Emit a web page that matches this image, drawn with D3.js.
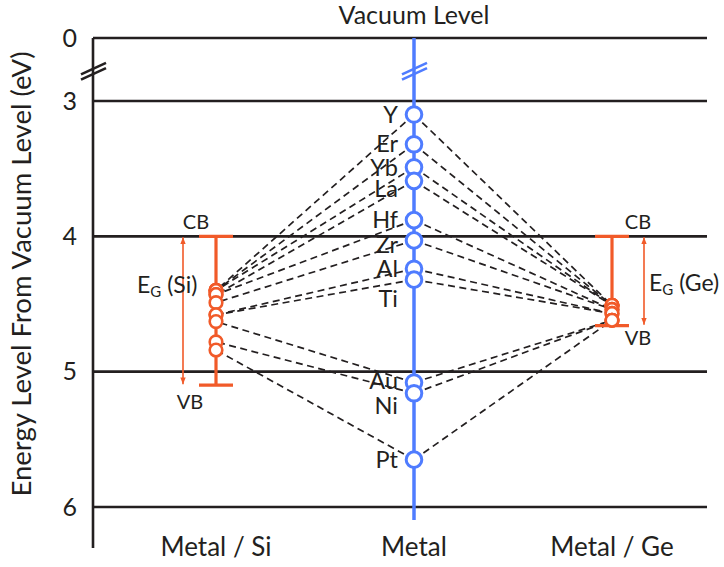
<!DOCTYPE html>
<html>
<head>
<meta charset="utf-8">
<script src="https://cdn.jsdelivr.net/npm/d3@7"></script>
<style>
  html, body { margin: 0; padding: 0; background: #fff; }
  svg { display: block; font-family: Lato, "Open Sans", sans-serif; }
</style>
</head>
<body>
<svg id="chart" width="724" height="567"></svg>
<script>
// Metal work functions (eV below vacuum) and the Fermi levels they pin to on Si and Ge
const metals      = ["Y", "Er", "Yb", "La", "Hf", "Zr", "Al", "Ti", "Au", "Ni", "Pt"];
const workFunc    = [3.10, 3.32, 3.49, 3.59, 3.88, 4.03, 4.24, 4.32, 5.08, 5.16, 5.65];
const pinnedSi    = [4.40, 4.40, 4.40, 4.43, 4.43, 4.49, 4.58, 4.58, 4.63, 4.78, 4.84];
const pinnedGe    = [4.51, 4.51, 4.51, 4.51, 4.54, 4.54, 4.57, 4.57, 4.62, 4.62, 4.62];

// Band edges (eV below vacuum)
const siBands = { cb: 4.00, vb: 5.10 };
const geBands = { cb: 4.00, vb: 4.66 };

const yTicks   = [0, 3, 4, 5, 6];
const columns  = ["Metal / Si", "Metal", "Metal / Ge"];

const svg = d3.select("#chart");
const ink = "#231f20", orange = "#f15a29", blue = "#4f7cff";

// Broken energy axis: 0..3 eV compressed, 3..6 eV linear
const y = d3.scaleLinear().domain([0, 3, 6]).range([38, 101, 507]);
const x = d3.scalePoint().domain(columns).range([216, 612]);
const axisX = 93, rightX = 707;

// Horizontal reference levels
svg.append("g").selectAll("line").data(yTicks).join("line")
  .attr("x1", axisX).attr("x2", rightX)
  .attr("y1", d => y(d)).attr("y2", d => y(d))
  .attr("stroke", ink).attr("stroke-width", 2.6);

// Left axis with tick labels
const yAxis = d3.axisLeft(y).tickValues(yTicks).tickFormat(d3.format("d"))
  .tickSize(0).tickPadding(16);
const gAxis = svg.append("g").attr("transform", `translate(${axisX},0)`).call(yAxis);
gAxis.select(".domain").remove();
gAxis.selectAll("text").attr("font-size", 25).attr("fill", ink)
  .attr("font-family", "Lato, sans-serif");
svg.append("line").attr("x1", axisX).attr("x2", axisX).attr("y1", y(0)).attr("y2", 548)
  .attr("stroke", ink).attr("stroke-width", 2.6);

// Break marks on the axis and on the metal column
function breakMarks(cx, cy, color) {
  [-2.6, 2.6].forEach(off => {
    svg.append("line")
      .attr("x1", cx - 12).attr("y1", cy + 5.5 + off)
      .attr("x2", cx + 13).attr("y2", cy - 6 + off)
      .attr("stroke", color).attr("stroke-width", 2.6);
  });
}
const breakY = (y(0) + y(3)) / 2 + 2;

// Dashed pinning lines
const xm = x("Metal"), xs = x("Metal / Si"), xg = x("Metal / Ge");
const dashG = svg.append("g").attr("stroke", ink).attr("stroke-width", 1.7)
  .attr("stroke-dasharray", "7,4.5").attr("fill", "none");
metals.forEach((m, i) => {
  dashG.append("line").attr("x1", xm).attr("y1", y(workFunc[i]))
    .attr("x2", xs).attr("y2", y(pinnedSi[i]));
  dashG.append("line").attr("x1", xm).attr("y1", y(workFunc[i]))
    .attr("x2", xg).attr("y2", y(pinnedGe[i]));
});

// Metal column
svg.append("line").attr("x1", xm).attr("x2", xm).attr("y1", y(0)).attr("y2", 520)
  .attr("stroke", blue).attr("stroke-width", 3.5);
breakMarks(axisX, breakY, ink);
breakMarks(xm, breakY, blue);

// Semiconductor band-gap bars
function bandBar(cx, bands) {
  const g = svg.append("g").attr("stroke", orange).attr("stroke-width", 3.2);
  g.append("line").attr("x1", cx).attr("x2", cx).attr("y1", y(bands.cb)).attr("y2", y(bands.vb));
  [bands.cb, bands.vb].forEach(v => g.append("line")
    .attr("x1", cx - 17).attr("x2", cx + 17).attr("y1", y(v)).attr("y2", y(v)));
}
bandBar(xs, siBands);
bandBar(xg, geBands);

// Pinned Fermi levels and metal work-function markers
svg.append("g").selectAll("circle").data(pinnedSi).join("circle")
  .attr("cx", xs).attr("cy", d => y(d)).attr("r", 6.3)
  .attr("fill", "#fff").attr("stroke", orange).attr("stroke-width", 2.6);
svg.append("g").selectAll("circle").data(pinnedGe).join("circle")
  .attr("cx", xg).attr("cy", d => y(d)).attr("r", 6.3)
  .attr("fill", "#fff").attr("stroke", orange).attr("stroke-width", 2.6);
svg.append("g").selectAll("circle").data(workFunc).join("circle")
  .attr("cx", xm).attr("cy", d => y(d)).attr("r", 7.8)
  .attr("fill", "#fff").attr("stroke", blue).attr("stroke-width", 3);

// Metal names, nudged apart where markers crowd together
const labelNudge = { Er: -1, Yb: 0, La: 8, Zr: 4, Ti: 19, Ni: 12, Au: -2 };
svg.append("g").selectAll("text").data(metals).join("text")
  .attr("x", xm - 16)
  .attr("y", (d, i) => y(workFunc[i]) + (labelNudge[d] || 0))
  .attr("dy", "0.35em").attr("text-anchor", "end")
  .attr("font-size", 23.5).attr("fill", ink).text(d => d);

// Band-gap arrows
const defs = svg.append("defs");
["start", "end"].forEach(k => {
  defs.append("marker").attr("id", "head-" + k)
    .attr("viewBox", "0 0 10 10").attr("refX", 10).attr("refY", 5)
    .attr("markerWidth", 4.2).attr("markerHeight", 4.2)
    .attr("orient", k === "start" ? "auto-start-reverse" : "auto")
    .append("path").attr("d", "M0,1 L10,5 L0,9 Z").attr("fill", orange);
});
function gapArrow(ax, bands) {
  svg.append("line").attr("x1", ax).attr("x2", ax)
    .attr("y1", y(bands.cb) + 1).attr("y2", y(bands.vb) - 1)
    .attr("stroke", orange).attr("stroke-width", 1.6)
    .attr("marker-start", "url(#head-start)").attr("marker-end", "url(#head-end)");
}
gapArrow(183, siBands);
gapArrow(644, geBands);

// Band labels
function label(tx, ty, str, size, anchor) {
  return svg.append("text").attr("x", tx).attr("y", ty).attr("font-size", size)
    .attr("fill", ink).attr("text-anchor", anchor || "middle").text(str);
}
label(xs - 20, y(siBands.cb) - 7, "CB", 20);
label(xs - 26, y(siBands.vb) + 24, "VB", 20);
label(xg + 26, y(geBands.cb) - 7, "CB", 20);
label(xg + 26, y(geBands.vb) + 19, "VB", 20);

function gapLabel(tx, ty, mat) {
  const t = svg.append("text").attr("x", tx).attr("y", ty).attr("font-size", 23).attr("fill", ink);
  t.append("tspan").text("E");
  t.append("tspan").attr("font-size", 15).attr("dy", 4).text("G");
  t.append("tspan").attr("dy", -4).text(" (" + mat + ")");
}
gapLabel(137, 293, "Si");
gapLabel(649, 291, "Ge");

// Titles
label(xm, 24, "Vacuum Level", 25);
columns.forEach(c => label(x(c), 556, c, 26));
svg.append("text").attr("transform", `translate(31,274) rotate(-90)`)
  .attr("text-anchor", "middle").attr("font-size", 27.5).attr("fill", ink)
  .text("Energy Level From Vacuum Level (eV)");
</script>
</body>
</html>
